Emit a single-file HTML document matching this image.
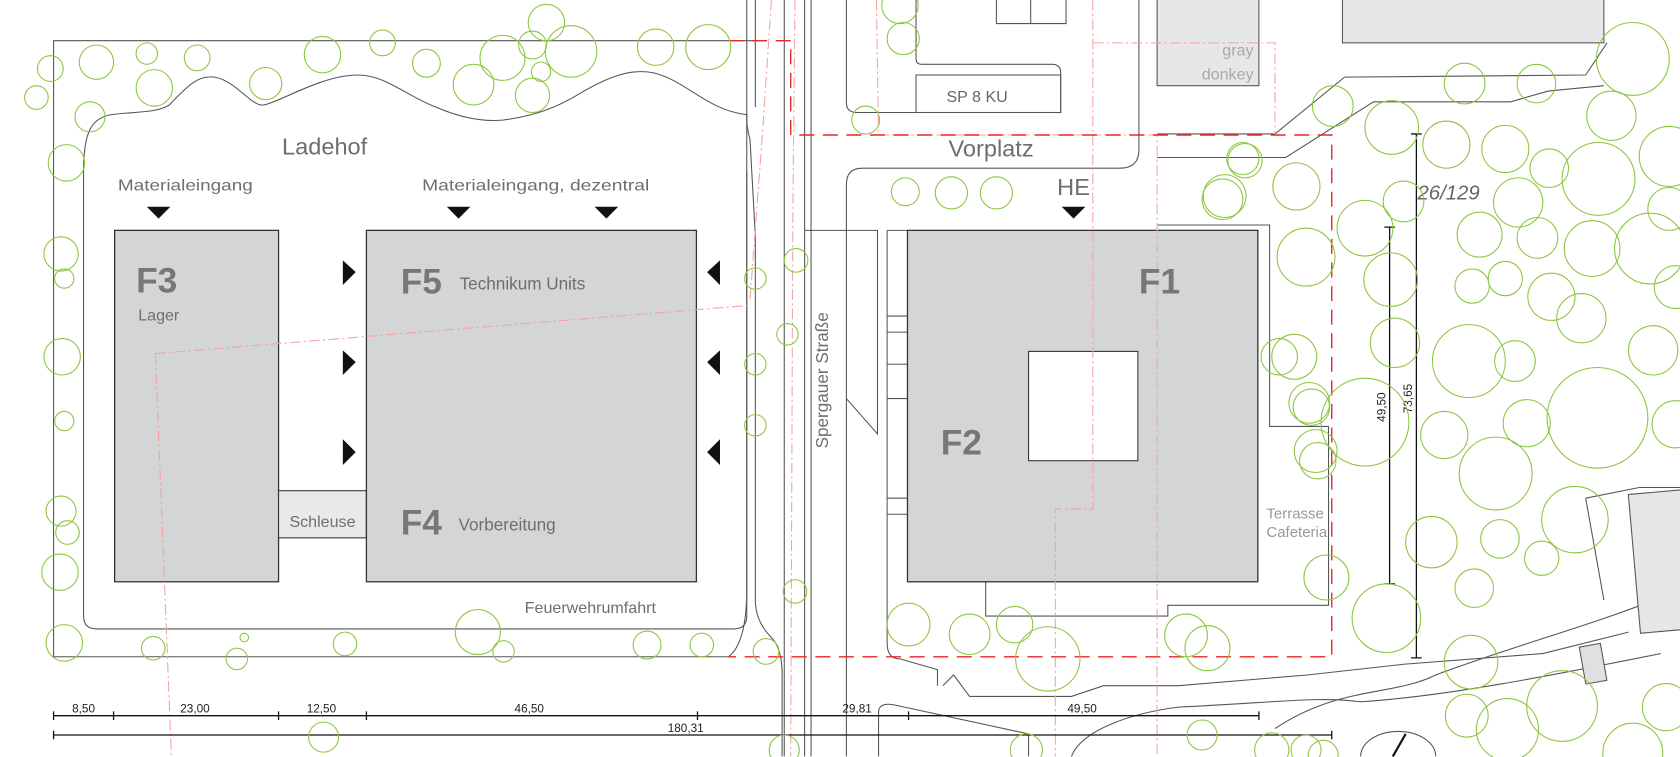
<!DOCTYPE html>
<html><head><meta charset="utf-8"><style>
html,body{margin:0;padding:0;background:#fff;width:1680px;height:757px;overflow:hidden}
svg{display:block}
text{font-family:"Liberation Sans Narrow","Liberation Sans",sans-serif;fill:#6e6e6e}
.t{fill:none;stroke:#8cc63f;stroke-width:1}
.l{fill:none;stroke:#555;stroke-width:1}
.rd{fill:none;stroke:#e8262a;stroke-width:1.3;stroke-dasharray:14 8}
.pk{fill:none;stroke:#f5a3a3;stroke-width:1;stroke-dasharray:10 3 2 3}
.b{fill:#d4d5d5;stroke:#333;stroke-width:1.2}
.dm{stroke:#111;stroke-width:1.2;fill:none}
.dt{font-size:11px;fill:#222}
</style></head><body>
<svg width="1680" height="757" viewBox="0 0 1680 757" xmlns="http://www.w3.org/2000/svg">
<g transform="scale(1.0714)">
<rect x="1080" y="-2" width="95" height="82" fill="#e6e7e7" stroke="#555"/>
<text x="1170" y="52" text-anchor="end" style="font-size:15px;fill:#aaa">gray</text>
<text x="1170" y="74" text-anchor="end" style="font-size:15px;fill:#aaa">donkey</text>
<rect x="1253" y="-2" width="244" height="42" fill="#e6e7e7" stroke="#555"/>
<path class="l" d="M930,0 V22 H995 V0 M962,0 V22"/>
<path class="l" d="M712,38 H50 V613 H680"/>
<path class="l" d="M78,575 V160 C78,124 85,110 104,107 C125,104 145,106 158,98 C175,80 185,70 200,72 C220,75 235,100 246,98 C260,96 300,70 334,70 C360,70 380,90 407,100 C430,110 450,114 470,112 C500,108 520,100 540,88 C570,70 590,64 610,68 C640,75 660,103 697,107 V575 Q697,587 685,587 H90 Q78,587 78,575"/>
<path class="l" d="M697,0 V110 Q697,120 700,130 L705,220 V560 Q705,580 720,595 Q730,605 730,630 V706"/>
<path class="l" d="M705,0 V100 M697,160 V550 Q697,600 680,613"/>
<path class="l" d="M732,0 V706 M751,0 V706 M757,0 V706"/>
<path class="l" d="M790,0 V96 Q790,105 800,105 H990 V68 Q990,60 982,60 H860 Q855,60 855,55 V0"/>
<rect class="l" x="855" y="70" width="135" height="35"/>
<text x="912" y="95" text-anchor="middle" style="font-size:15px;fill:#666">SP 8 KU</text>
<path class="l" d="M1063,0 V140 Q1063,157 1045,157 H805 Q790,157 790,172 V706"/>
<path class="l" d="M751,215 H805 M790,215 H819 V405 L790,372 M828,215 H847 M828,215 V600 Q828,615 840,615 L875,625 V640"/>
<path class="l" d="M828,295 H847 M828,310 H847 M828,340 H847 M828,372 H847 M828,465 H847 M828,480 H847"/>
<path class="l" d="M1080,125 H1190 L1255,72 L1480,70 L1500,40"/>
<path class="l" d="M1080,147 H1200 L1282,95 L1410,95 L1445,85 L1497,80"/>
<path class="l" d="M1080,210 H1185 V398 H1240 V565 H1090 V575 H920 V543"/>
<path class="l" d="M1190,680 C1250,640 1300,650 1340,630 C1420,600 1500,580 1568,550"/>
<path class="l" d="M1000,706 C1010,680 1060,665 1100,660 C1200,655 1230,650 1270,655 C1350,650 1450,630 1550,610"/>
<path class="l" d="M880,640 L890,630 L905,650 H1000 L1030,640 H1100 L1220,630 L1310,620 L1440,610 L1520,590"/>
<path class="l" d="M1480,465 L1530,455 L1568,455 M1480,465 L1497,560"/>
<rect x="1477" y="602" width="20" height="35" fill="#e0e0e0" stroke="#555" transform="rotate(-10 1487 620)"/>
<rect x="1525" y="460" width="50" height="130" fill="#e6e7e7" stroke="#555" transform="rotate(-5 1540 520)"/>
<path class="l" d="M820,706 V665 Q820,655 835,658 L960,685 V706"/>
<path d="M1300,706 L1312,685" stroke="#111" stroke-width="2"/>
<path class="l" d="M1270,706 A30,20 0 0 1 1340,706"/>
<rect class="b" x="107" y="215" width="153" height="328"/>
<rect x="260" y="458" width="82" height="44" fill="#e8e9e9" stroke="#333"/>
<rect class="b" x="342" y="215" width="308" height="328"/>
<rect class="b" x="847" y="215" width="327" height="328"/>
<rect x="960" y="328" width="102" height="102" fill="#fff" stroke="#333"/>
<path class="pk" d="M145,330 L700,285 M145,330 L160,706"/>
<path class="pk" d="M720,0 L712,120 L700,280 M742,0 L740,200 L738,706 M818,0 L820,126 M820,126 H1080 V706"/>
<path class="pk" d="M1020,0 V475 H985 V706"/>
<path class="pk" d="M1020,40 H1190 V126"/>
<path class="rd" d="M680,38 H738 V126 H1243 V613 H680"/>
<g fill="#111">
<path d="M137,193 H159 L148,204Z M417,193 H439 L428,204Z M555,193 H577 L566,204Z M991,193 H1013 L1002,204Z"/>
<path d="M320,243 L332,254 L320,266Z M320,327 L332,338 L320,350Z M320,410 L332,422 L320,434Z"/>
<path d="M672,243 L660,254 L672,266Z M672,327 L660,338 L672,350Z M672,410 L660,422 L672,434Z"/>
</g>
<text x="303" y="144" text-anchor="middle" style="font-size:22px">Ladehof</text>
<text x="110" y="178" style="font-size:15px" textLength="126" lengthAdjust="spacingAndGlyphs">Materialeingang</text>
<text x="394" y="178" style="font-size:15px" textLength="212" lengthAdjust="spacingAndGlyphs">Materialeingang, dezentral</text>
<text x="925" y="146" text-anchor="middle" style="font-size:22px">Vorplatz</text>
<text x="1002" y="182" text-anchor="middle" style="font-size:22px">HE</text>
<text x="127" y="273" style="font-size:33px;font-weight:bold;fill:#777">F3</text>
<text x="129" y="299" style="font-size:15px">Lager</text>
<text x="374" y="274" style="font-size:33px;font-weight:bold;fill:#777">F5</text>
<text x="429" y="270" style="font-size:16px">Technikum Units</text>
<text x="374" y="499" style="font-size:33px;font-weight:bold;fill:#777">F4</text>
<text x="428" y="495" style="font-size:16px">Vorbereitung</text>
<text x="301" y="492" text-anchor="middle" style="font-size:15px">Schleuse</text>
<text x="551" y="572" text-anchor="middle" style="font-size:15px">Feuerwehrumfahrt</text>
<text x="1063" y="274" style="font-size:33px;font-weight:bold;fill:#777">F1</text>
<text x="878" y="424" style="font-size:33px;font-weight:bold;fill:#777">F2</text>
<text transform="translate(773,355) rotate(-90)" text-anchor="middle" style="font-size:16px">Spergauer Straße</text>
<text x="1182" y="484" style="font-size:14px;fill:#999">Terrasse</text>
<text x="1182" y="501" style="font-size:14px;fill:#999">Cafeteria</text>
<text x="1323" y="186" style="font-size:19px;font-style:italic;fill:#666">26/129</text>
<path class="dm" d="M1297,212 V545 M1292,212 H1302 M1292,545 H1302 M1322,125 V614 M1317,125 H1327 M1317,614 H1327"/>
<text class="dt" transform="translate(1293,380) rotate(-90)" text-anchor="middle">49,50</text>
<text class="dt" transform="translate(1318,372) rotate(-90)" text-anchor="middle">73,65</text>
<path class="dm" d="M50,668 H1175 M50,686 H1243"/>
<path class="dm" d="M50,664 V672 M106,664 V672 M260,664 V672 M342,664 V672 M651,664 V672 M848,664 V672 M1175,664 V672 M50,682 V690 M1243,682 V690"/>
<text class="dt" x="78" y="665" text-anchor="middle">8,50</text>
<text class="dt" x="182" y="665" text-anchor="middle">23,00</text>
<text class="dt" x="300" y="665" text-anchor="middle">12,50</text>
<text class="dt" x="494" y="665" text-anchor="middle">46,50</text>
<text class="dt" x="800" y="665" text-anchor="middle">29,81</text>
<text class="dt" x="1010" y="665" text-anchor="middle">49,50</text>
<text class="dt" x="640" y="683" text-anchor="middle">180,31</text>
<g class="t">
<circle cx="47" cy="64" r="12"/><circle cx="90" cy="58" r="16"/><circle cx="137" cy="50" r="10"/><circle cx="144" cy="82" r="17"/>
<circle cx="184" cy="54" r="12"/><circle cx="84" cy="109" r="14"/><circle cx="34" cy="91" r="11"/><circle cx="62" cy="152" r="17"/>
<circle cx="248" cy="78" r="15"/><circle cx="301" cy="51" r="17"/><circle cx="357" cy="40" r="12"/><circle cx="398" cy="59" r="13"/>
<circle cx="442" cy="79" r="19"/><circle cx="469" cy="54" r="21"/><circle cx="497" cy="42" r="13"/><circle cx="510" cy="21" r="17"/>
<circle cx="533" cy="48" r="24"/><circle cx="505" cy="67" r="9"/><circle cx="497" cy="89" r="16"/><circle cx="612" cy="44" r="17"/><circle cx="661" cy="44" r="21"/>
<circle cx="57" cy="237" r="16"/><circle cx="60" cy="260" r="9"/><circle cx="58" cy="333" r="17"/><circle cx="60" cy="393" r="9"/>
<circle cx="57" cy="477" r="14"/><circle cx="63" cy="497" r="11"/><circle cx="56" cy="534" r="17"/><circle cx="60" cy="600" r="17"/>
<circle cx="143" cy="605" r="11"/><circle cx="221" cy="615" r="10"/><circle cx="228" cy="595" r="4"/><circle cx="322" cy="601" r="11"/>
<circle cx="446" cy="590" r="21"/><circle cx="470" cy="608" r="10"/><circle cx="604" cy="602" r="13"/><circle cx="655" cy="602" r="11"/>
<circle cx="743" cy="243" r="11"/><circle cx="742" cy="552" r="11"/><circle cx="735" cy="312" r="10"/>
<circle cx="705" cy="260" r="10"/><circle cx="705" cy="340" r="10"/><circle cx="705" cy="397" r="10"/>
<circle cx="715" cy="608" r="12"/><circle cx="732" cy="700" r="14"/><circle cx="302" cy="688" r="14"/>
<circle cx="845" cy="179" r="13"/><circle cx="888" cy="180" r="15"/><circle cx="930" cy="180" r="15"/><circle cx="808" cy="112" r="13"/>
<circle cx="843" cy="36" r="15"/><circle cx="840" cy="5" r="17"/><circle cx="1160" cy="148" r="15"/><circle cx="1143" cy="183" r="20"/>
<circle cx="1194" cy="333" r="17"/><circle cx="1224" cy="380" r="17"/><circle cx="1230" cy="430" r="17"/>
<circle cx="848" cy="583" r="20"/><circle cx="905" cy="592" r="19"/><circle cx="947" cy="583" r="17"/><circle cx="978" cy="615" r="30"/>
<circle cx="1107" cy="593" r="20"/><circle cx="1122" cy="686" r="14"/><circle cx="958" cy="700" r="15"/>
<circle cx="1187" cy="700" r="16"/><circle cx="1219" cy="700" r="14"/><circle cx="1235" cy="705" r="14"/>
<circle cx="1524" cy="55" r="34"/><circle cx="1367" cy="78" r="19"/><circle cx="1434" cy="78" r="18"/><circle cx="1504" cy="108" r="23"/>
<circle cx="1244" cy="99" r="19"/><circle cx="1299" cy="119" r="25"/><circle cx="1350" cy="135" r="22"/><circle cx="1405" cy="139" r="22"/>
<circle cx="1446" cy="157" r="18"/><circle cx="1492" cy="167" r="34"/><circle cx="1558" cy="146" r="28"/><circle cx="1162" cy="150" r="16"/>
<circle cx="1210" cy="174" r="22"/><circle cx="1141" cy="186" r="19"/><circle cx="1310" cy="188" r="19"/><circle cx="1417" cy="189" r="23"/>
<circle cx="1274" cy="213" r="26"/><circle cx="1381" cy="219" r="21"/><circle cx="1435" cy="222" r="19"/><circle cx="1486" cy="232" r="26"/>
<circle cx="1540" cy="232" r="33"/><circle cx="1558" cy="195" r="20"/><circle cx="1219" cy="240" r="27"/><circle cx="1298" cy="261" r="25"/>
<circle cx="1374" cy="267" r="16"/><circle cx="1405" cy="260" r="16"/><circle cx="1448" cy="277" r="22"/><circle cx="1476" cy="297" r="23"/>
<circle cx="1564" cy="268" r="20"/><circle cx="1302" cy="320" r="23"/><circle cx="1371" cy="337" r="34"/><circle cx="1414" cy="337" r="19"/>
<circle cx="1543" cy="327" r="23"/><circle cx="1208" cy="333" r="21"/><circle cx="1222" cy="376" r="19"/><circle cx="1274" cy="394" r="41"/>
<circle cx="1348" cy="406" r="22"/><circle cx="1425" cy="395" r="22"/><circle cx="1491" cy="390" r="47"/><circle cx="1564" cy="396" r="22"/>
<circle cx="1228" cy="421" r="20"/><circle cx="1396" cy="442" r="34"/><circle cx="1470" cy="485" r="31"/><circle cx="1336" cy="506" r="24"/>
<circle cx="1400" cy="503" r="18"/><circle cx="1439" cy="521" r="16"/><circle cx="1238" cy="539" r="21"/><circle cx="1376" cy="549" r="18"/>
<circle cx="1294" cy="577" r="32"/><circle cx="1127" cy="605" r="21"/><circle cx="1373" cy="618" r="25"/><circle cx="1458" cy="659" r="33"/>
<circle cx="1369" cy="668" r="20"/><circle cx="1407" cy="681" r="29"/><circle cx="1555" cy="660" r="22"/><circle cx="1524" cy="703" r="28"/>
</g>
</g>
</svg>
</body></html>
